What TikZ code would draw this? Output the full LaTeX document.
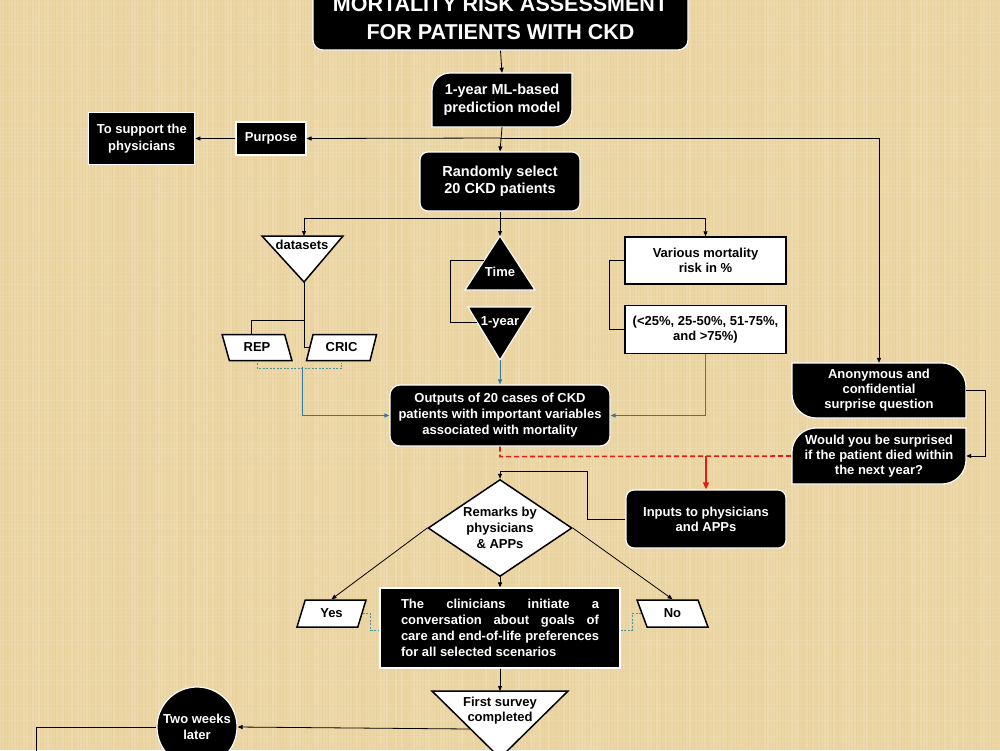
\documentclass[tikz,border=0pt]{standalone}
\usepackage{fontspec}
\setmainfont{Liberation Sans}
\usepackage{xcolor}
\definecolor{Parchment}{RGB}{235,212,160}
\definecolor{ParchmentDark}{RGB}{205,172,110}
\definecolor{LinkBlue}{RGB}{55,120,160}
\definecolor{BracketTeal}{RGB}{80,150,150}
\definecolor{AlertRed}{RGB}{225,30,20}
\usetikzlibrary{positioning,arrows.meta,shapes.geometric,calc}

\begin{document}
\begin{tikzpicture}[x=1pt, y=-1pt,
    blk/.style={rectangle, fill=black, draw=white, line width=1.2pt, text=white,
                align=center, inner sep=2pt, font=\bfseries\fontsize{13}{15}\selectfont},
    rblk/.style={blk, rounded corners=8pt},
    wht/.style={rectangle, fill=white, draw=black, line width=1.5pt,
                align=center, inner sep=2pt, font=\bfseries\fontsize{13}{15}\selectfont},
    txt/.style={align=center, inner sep=0pt, font=\bfseries\fontsize{13}{15}\selectfont},
    slanted/.style={trapezium, trapezium stretches=true, fill=white, draw=black, line width=1.5pt,
                minimum width=70pt, minimum height=26pt, inner sep=1pt,
                font=\bfseries\fontsize{13}{15}\selectfont},
    leaf/.style={fill=black, draw=white, line width=1.2pt},
    arrow/.style={-{Triangle[length=5pt,width=4pt]}, line width=0.8pt},
    link/.style={line width=0.8pt},
    bluearrow/.style={arrow, draw=LinkBlue, -{Triangle[length=5pt,width=4pt,fill=LinkBlue]}},
    bracket/.style={draw=BracketTeal, line width=0.8pt, dash pattern=on 2pt off 1.5pt},
    reddash/.style={draw=AlertRed, line width=1.6pt, dash pattern=on 5pt off 3pt},
    redarrow/.style={draw=AlertRed, line width=1.6pt, -{Triangle[length=7pt,width=6pt,fill=AlertRed]}}
]
    \useasboundingbox (0,0) rectangle (1000,750);
    \clip (0,0) rectangle (1000,750);
    \fill[Parchment] (0,0) rectangle (1000,750);
    % papyrus texture
    \pgfmathsetseed{11}
    \foreach \i in {0,3,...,1000}{
        \pgfmathsetmacro\lite{rnd*0.16}
        \pgfmathsetmacro\dark{rnd*0.09}
        \draw[white, opacity=\lite, line width=1.2pt] (\i,0) -- (\i,750);
        \draw[ParchmentDark, opacity=\dark, line width=1pt] (\i+1.5,0) -- (\i+1.5,750);
    }
    \foreach \j in {0,4,...,750}{
        \pgfmathsetmacro\lite{rnd*0.1}
        \draw[white, opacity=\lite, line width=0.8pt] (0,\j) -- (1000,\j);
    }

    % shapes with two rounded corners
    \filldraw[leaf] (450,73) -- (572,73) -- (572,109) .. controls (572,119) and (564,127) .. (554,127)
        -- (432,127) -- (432,91) .. controls (432,81) and (440,73) .. (450,73) -- cycle;
    \filldraw[leaf] (792,363) -- (942,363) .. controls (955,363) and (966,374) .. (966,387)
        -- (966,418) -- (816,418) .. controls (803,418) and (792,407) .. (792,394) -- cycle;
    \filldraw[leaf] (816,428) -- (966,428) -- (966,460) .. controls (966,473) and (955,484) .. (942,484)
        -- (792,484) -- (792,452) .. controls (792,439) and (803,428) .. (816,428) -- cycle;

    % triangles
    \filldraw[fill=white, draw=black, line width=1.5pt] (262,236) -- (343,236) -- (304,282) -- cycle;
    \filldraw[leaf] (500,236) -- (535,290) -- (465,290) -- cycle;
    \filldraw[leaf] (468,307) -- (533,307) -- (500,360) -- cycle;
    \filldraw[fill=white, draw=black, line width=1.5pt] (432,691) -- (568,691) -- (500,758) -- cycle;
    \coordinate (dsapex) at (304,282);
    \coordinate (dstop) at (304,236);
    \coordinate (timetop) at (500,236);
    \coordinate (timeleft) at (484,260);
    \coordinate (yearleft) at (477,322);
    \coordinate (yearapex) at (500,360);
    \coordinate (surveytop) at (500,691);
    \coordinate (surveyleft) at (470,729);

    % nodes
    \node[rblk, rounded corners=10pt, minimum width=375pt, minimum height=64pt,
          font=\bfseries\fontsize{21.5}{28}\selectfont] (title) at (500.5,18)
          {MORTALITY RISK ASSESSMENT\\FOR PATIENTS WITH CKD};
    \node[txt, text=white, minimum width=140pt, minimum height=54pt,
          font=\bfseries\fontsize{14.5}{18}\selectfont] (ml) at (502,100) {1-year ML-based\\prediction model};
    \node[blk, minimum width=70pt, minimum height=33pt] (purpose) at (271,138.5) {Purpose};
    \node[blk, minimum width=106pt, minimum height=52pt, font=\bfseries\fontsize{13}{17}\selectfont,
          left=40pt of purpose] (support) {To support the\\physicians};
    \node[rblk, minimum width=160pt, minimum height=59pt,
          font=\bfseries\fontsize{14.5}{17}\selectfont] (random) at (500,181.5) {Randomly select\\20 CKD patients};

    \node[txt] (datasets) at (302,245) {datasets};
    \node[txt, text=white] (time) at (500,272) {Time};
    \node[txt, text=white] (oneyear) at (500,322) {1-year};
    \node[slanted, trapezium left angle=109, trapezium right angle=71] (rep) at (257,347.5) {REP};
    \node[slanted, trapezium left angle=71, trapezium right angle=109, right=20pt of rep] (cric) {CRIC};

    \node[wht, minimum width=161pt, minimum height=47pt] (various) at (705.5,260.5) {Various mortality\\risk in \%};
    \node[wht, minimum width=161pt, minimum height=48pt, below=20pt of various] (ranges)
          {(<25\%, 25-50\%, 51-75\%,\\and >75\%)};

    \node[rblk, rounded corners=10pt, minimum width=220pt, minimum height=61pt,
          font=\bfseries\fontsize{13}{16}\selectfont] (outputs) at (500,415.5)
          {Outputs of 20 cases of CKD\\patients with important variables\\associated with mortality};

    \node[txt, text=white, minimum width=174pt, minimum height=55pt] (anon) at (879,390.5)
          {Anonymous and\\confidential\\surprise question};
    \node[txt, text=white, minimum width=174pt, minimum height=56pt] (would) at (879,456)
          {Would you be surprised\\if the patient died within\\the next year?};

    \node[rblk, minimum width=160pt, minimum height=58pt] (inputs) at (706,519) {Inputs to physicians\\and APPs};
    \node[diamond, fill=white, draw=black, line width=1.5pt, aspect=1.5, inner sep=0pt,
          minimum width=144pt, minimum height=97pt, align=center,
          font=\bfseries\fontsize{13}{16}\selectfont] (remarks) at (500,528) {Remarks by\\physicians\\\& APPs};

    \node[slanted, trapezium left angle=71, trapezium right angle=109, minimum width=69pt, minimum height=27pt]
          (yes) at (331.5,613.5) {Yes};
    \node[slanted, trapezium left angle=109, trapezium right angle=71, minimum width=71pt, minimum height=27pt]
          (no) at (672.5,613.5) {No};
    \node[blk, minimum width=240pt, minimum height=80pt, text width=198pt, align=justify,
          font=\bfseries\fontsize{13}{16}\selectfont] (clin) at (500,628)
          {\exhyphenpenalty=10000\relax
           The clinicians initiate a\linebreak conversation about goals of\linebreak
           care and end-of-life preferences\linebreak for all selected scenarios};

    \node[txt] (survey) at (500,711) {First survey\\completed};
    \node[circle, fill=black, draw=white, line width=1.2pt, minimum size=80pt, inner sep=0pt,
          text=white, align=center, font=\bfseries\fontsize{13}{16}\selectfont] (twoweeks) at (197,727)
          {Two weeks\\later};

    % connectors
    \coordinate (split) at (500,138);
    \coordinate (fork) at (500,218);
    \draw[arrow] (title.south) -- (ml.north);
    \draw[arrow] (ml.south) -- (random.north);
    \draw[arrow] (split) -- (purpose.east);
    \draw[arrow] (split) -| (anon.north);
    \draw[arrow] (purpose.west) -- (support.east);

    \draw[link] (random.south) -- (fork);
    \draw[arrow] (fork) -| (dstop);
    \draw[arrow] (fork) -- (timetop);
    \draw[arrow] (fork) -| (various.north);

    \draw[link] (dsapex) -- ++(0,38) -| ([xshift=-6pt]rep.north);
    \draw[link] (dsapex) |- (cric.west);
    \draw[bracket] ([yshift=-2pt]rep.south) -- ++(0,5) -| ([yshift=-2pt]cric.south);
    \coordinate (dsjoin) at (302,367);
    \draw[bluearrow] (dsjoin) |- (outputs.west);

    \draw[link] (timeleft) -- ++(-34,0) |- (yearleft);
    \draw[bluearrow] (yearapex) -- (outputs.north);
    \draw[link] (various.west) -- ++(-15,0) |- (ranges.west);
    \draw[bluearrow] (ranges.south) |- (outputs.east);

    \draw[reddash] (outputs.south) -- ++(0,10) -- (would.west);
    \coordinate (redfork) at (706,456);
    \draw[redarrow] (redfork) -- (inputs.north);
    \draw[arrow] (anon.east) -- ++(19,0) |- (would.east);

    \draw[arrow] (inputs.west) -- ++(-38,0) |- ($(remarks.north)+(0,-7)$) -- (remarks.north);
    \draw[arrow] (remarks.west) -- (yes.north);
    \draw[arrow] (remarks.east) -- (no.north);
    \draw[arrow] (remarks.south) -- (clin.north);
    \draw[bracket] (yes.east) -- ++(8,0) |- ([yshift=-2pt]clin.west);
    \draw[bracket] (no.west) -- ++(-9,0) |- ([yshift=-2pt]clin.east);

    \draw[arrow] (clin.south) -- (surveytop);
    \draw[arrow] (surveyleft) -- (twoweeks.east);
    \draw[link] (twoweeks.west) -- ++(-120,0) -- ++(0,40);
\end{tikzpicture}
\end{document}
